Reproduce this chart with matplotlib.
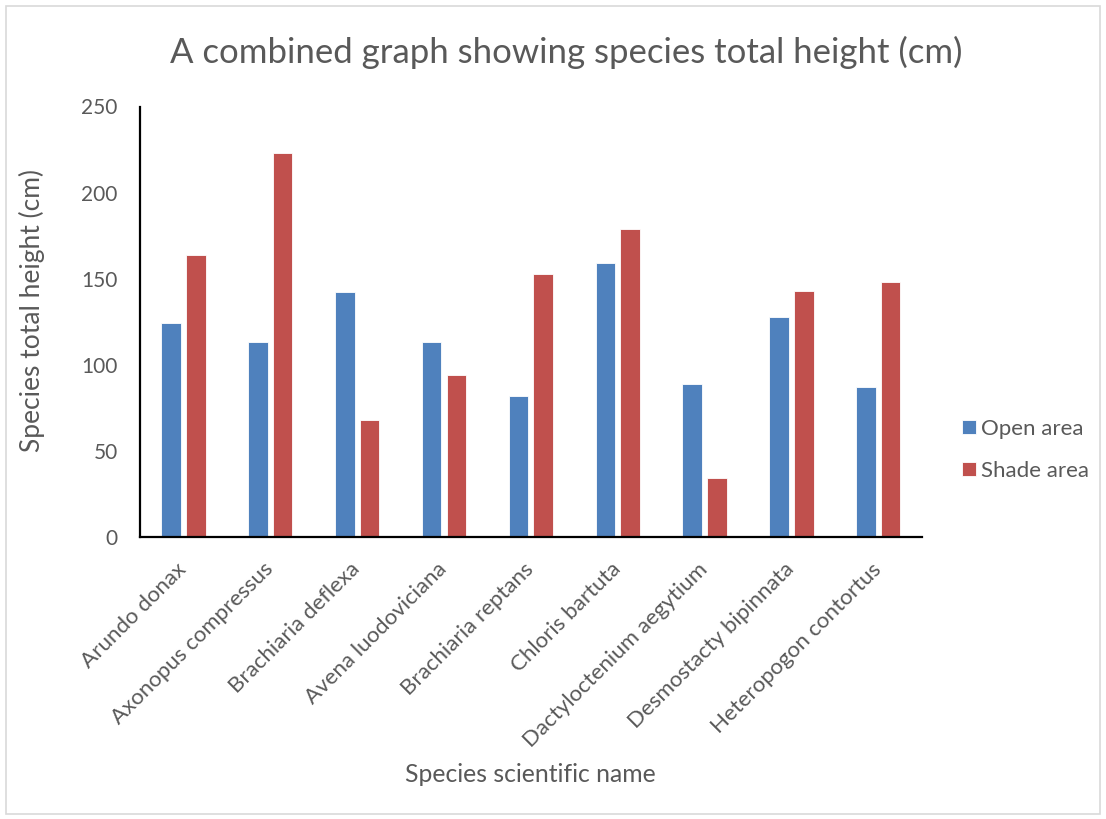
import matplotlib.pyplot as plt
import matplotlib.patches as mpatches
import numpy as np

plt.rcParams['font.family'] = ['Lato', 'DejaVu Sans']

species = ["Arundo donax", "Axonopus compressus", "Brachiaria deflexa",
           "Avena luodoviciana", "Brachiaria reptans", "Chloris bartuta",
           "Dactyloctenium aegytium", "Desmostacty bipinnata",
           "Heteropogon contortus"]
open_area = [124, 113, 142, 113, 82, 159, 89, 128, 87]
shade_area = [164, 223, 68, 94, 153, 179, 34, 143, 148]
y_ticks = [0, 50, 100, 150, 200, 250]

blue = "#4f81bd"
red = "#c0504d"
grey = "#595959"

W, H = 1106, 819
fig = plt.figure(figsize=(W / 100, H / 100), dpi=100)

# light frame around the chart area
fig.patches.append(mpatches.Rectangle((6 / W, 5 / H), (W - 12) / W, (H - 11) / H,
                                      transform=fig.transFigure, fill=False,
                                      edgecolor="#d9d9d9", linewidth=1.2))

ax = fig.add_axes([140 / W, (H - 537) / H, (921.7 - 140) / W, (537 - 106.5) / H])

x = np.arange(len(species))
bw = 0.225
off = 0.142
ax.bar(x - off, open_area, bw, color=blue, edgecolor="white", linewidth=0.6, label="Open area")
ax.bar(x + off, shade_area, bw, color=red, edgecolor="white", linewidth=0.6, label="Shade area")

ax.set_xlim(-0.5, len(species) - 0.5)
ax.set_ylim(0, 250)
ax.set_yticks(y_ticks)
ax.set_xticks(x)
ax.set_xticklabels(species, rotation=45, ha="right", va="center", rotation_mode="anchor")
ax.tick_params(axis="both", length=0, colors=grey)
ax.tick_params(axis="y", labelsize=15, pad=16)
ax.tick_params(axis="x", labelsize=16, pad=21)

for s in ["top", "right"]:
    ax.spines[s].set_visible(False)
for s in ["left", "bottom"]:
    ax.spines[s].set_color("black")
    ax.spines[s].set_linewidth(1.6)

fig.text(566 / W, 1 - 52 / H, "A combined graph showing species total height (cm)",
         ha="center", va="center", fontsize=25, color=grey)
fig.text(32 / W, 1 - 310 / H, "Species total height (cm)", rotation=90,
         ha="center", va="center", fontsize=19, color=grey)
fig.text(530 / W, 1 - 775 / H, "Species scientific name",
         ha="center", va="center", fontsize=17.8, color=grey)

ax.legend(loc="center left", bbox_to_anchor=(962 / W, 1 - 450 / H),
          bbox_transform=fig.transFigure, frameon=False, fontsize=16,
          labelcolor=grey, handlelength=0.62, handleheight=0.62,
          handletextpad=0.25, labelspacing=1.0, borderpad=0, borderaxespad=0)

fig.savefig("out.png", dpi=100)
